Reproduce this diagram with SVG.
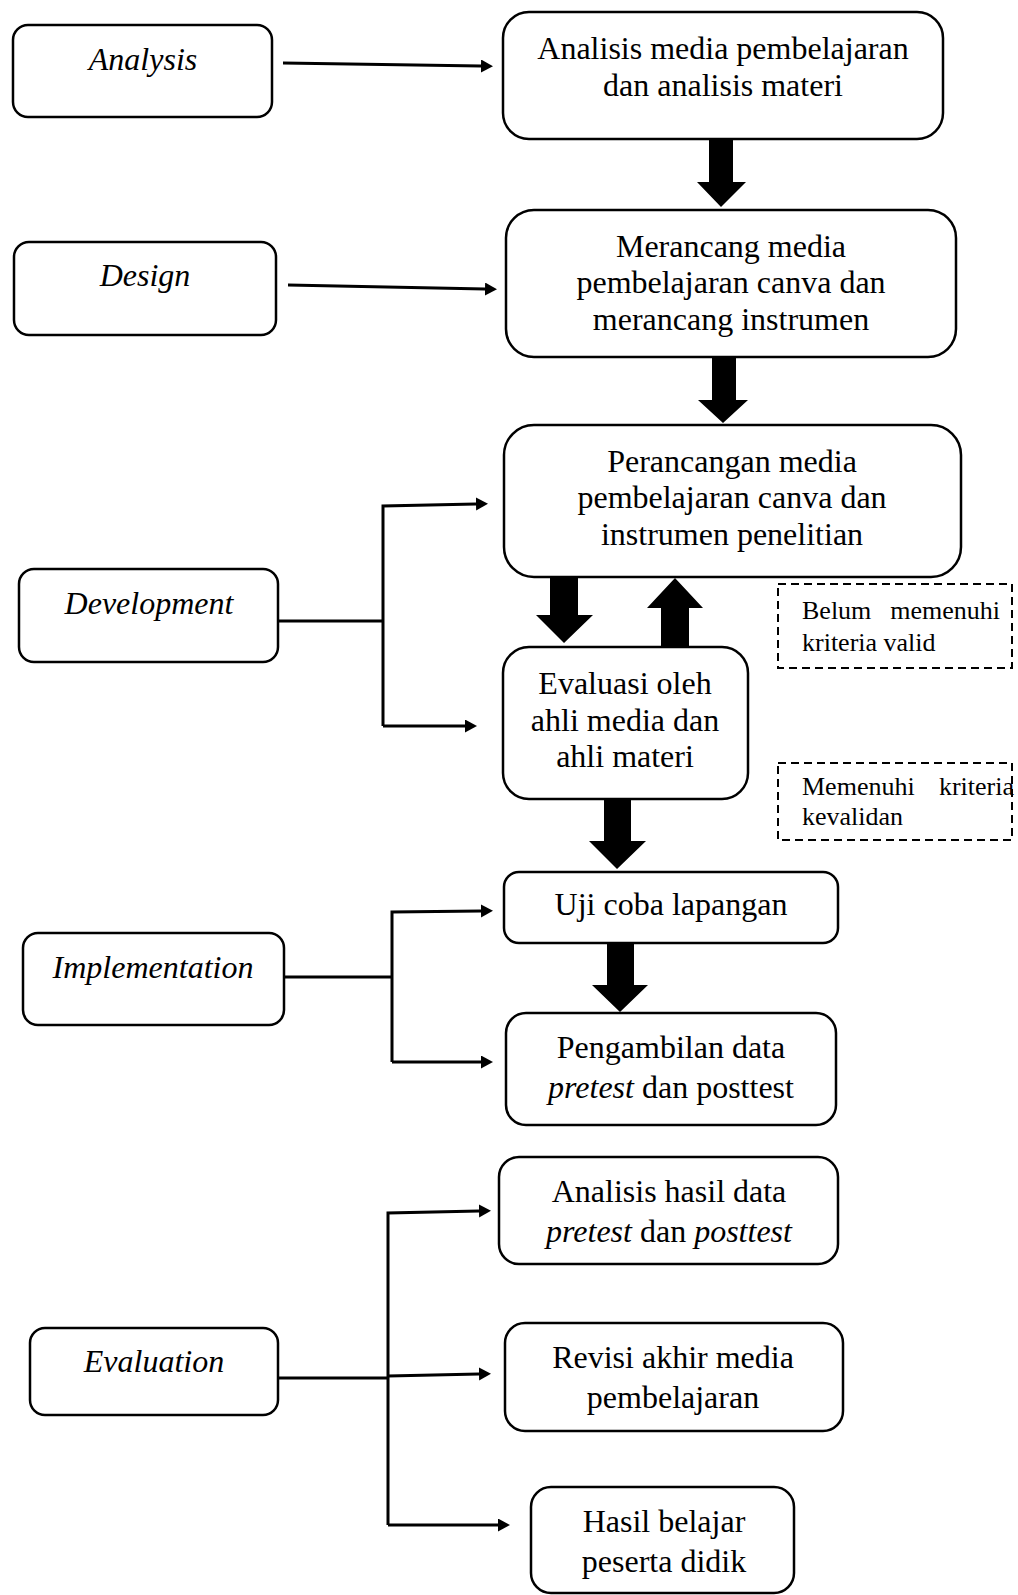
<svg xmlns="http://www.w3.org/2000/svg" width="1018" height="1595" viewBox="0 0 1018 1595">
<style>
.box{fill:#fff;stroke:#000;stroke-width:2.5}
.dash{fill:#fff;stroke:#000;stroke-width:2;stroke-dasharray:8 5}
.t{font-family:"Liberation Serif","Times New Roman",serif;font-size:32px;fill:#000;text-anchor:middle}
.lbl{font-style:italic}
.s{font-family:"Liberation Serif","Times New Roman",serif;font-size:26px;fill:#000}
.ln{fill:none;stroke:#000;stroke-width:3;stroke-linejoin:miter}
.thick{fill:#000}
</style>
<defs>
<marker id="ah" markerUnits="userSpaceOnUse" markerWidth="14" markerHeight="14" refX="0" refY="6.5" orient="auto">
<path d="M0,0 L12,6.5 L0,13 z" fill="#000"/>
</marker>
</defs>

<g id="analysis"><rect class="box" x="13" y="25" width="259" height="92" rx="15"/><text class="t lbl" x="143" y="70">Analysis</text></g>
<g id="design"><rect class="box" x="14" y="242" width="262" height="93" rx="15"/><text class="t lbl" x="145" y="286">Design</text></g>
<g id="development"><rect class="box" x="19" y="569" width="259" height="93" rx="15"/><text class="t lbl" x="149" y="614">Development</text></g>
<g id="implementation"><rect class="box" x="23" y="933" width="261" height="92" rx="15"/><text class="t lbl" x="153" y="978">Implementation</text></g>
<g id="evaluation"><rect class="box" x="30" y="1328" width="248" height="87" rx="15"/><text class="t lbl" x="154" y="1372">Evaluation</text></g>

<g id="analisis-media"><rect class="box" x="503" y="12" width="440" height="127" rx="26"/>
<text class="t" x="723" y="59">Analisis media pembelajaran</text><text class="t" x="723" y="96">dan analisis materi</text></g>
<g id="merancang-media"><rect class="box" x="506" y="210" width="450" height="147" rx="28"/>
<text class="t" x="731" y="257">Merancang media</text><text class="t" x="731" y="293">pembelajaran canva dan</text><text class="t" x="731" y="330">merancang instrumen</text></g>
<g id="perancangan-media"><rect class="box" x="504" y="425" width="457" height="152" rx="30"/>
<text class="t" x="732" y="472">Perancangan media</text><text class="t" x="732" y="508">pembelajaran canva dan</text><text class="t" x="732" y="545">instrumen penelitian</text></g>
<g id="evaluasi-ahli"><rect class="box" x="503" y="647" width="245" height="152" rx="26"/>
<text class="t" x="625" y="694">Evaluasi oleh</text><text class="t" x="625" y="731">ahli media dan</text><text class="t" x="625" y="767">ahli materi</text></g>
<g id="uji-coba"><rect class="box" x="504" y="872" width="334" height="71" rx="15"/>
<text class="t" x="671" y="915">Uji coba lapangan</text></g>
<g id="pengambilan-data"><rect class="box" x="506" y="1013" width="330" height="112" rx="20"/>
<text class="t" x="671" y="1058">Pengambilan data</text><text class="t" x="671" y="1098"><tspan font-style="italic">pretest</tspan> dan posttest</text></g>
<g id="analisis-hasil"><rect class="box" x="499" y="1157" width="339" height="107" rx="20"/>
<text class="t" x="669" y="1202">Analisis hasil data</text><text class="t" x="669" y="1242"><tspan font-style="italic">pretest</tspan> dan <tspan font-style="italic">posttest</tspan></text></g>
<g id="revisi-akhir"><rect class="box" x="505" y="1323" width="338" height="108" rx="20"/>
<text class="t" x="673" y="1368">Revisi akhir media</text><text class="t" x="673" y="1408">pembelajaran</text></g>
<g id="hasil-belajar"><rect class="box" x="531" y="1487" width="263" height="106" rx="20"/>
<text class="t" x="664" y="1532">Hasil belajar</text><text class="t" x="664" y="1572">peserta didik</text></g>

<g id="note-belum"><rect class="dash" x="778" y="584" width="234" height="84"/>
<text class="s" y="619"><tspan x="802">Belum</tspan><tspan x="1000" text-anchor="end">memenuhi</tspan></text>
<text class="s" x="802" y="651">kriteria valid</text></g>
<g id="note-memenuhi"><rect class="dash" x="778" y="763" width="234" height="77"/>
<text class="s" y="795"><tspan x="802">Memenuhi</tspan><tspan x="1014" text-anchor="end">kriteria</tspan></text>
<text class="s" x="802" y="825">kevalidan</text></g>

<g id="connectors">
<path class="ln" d="M283,63 L481,66" marker-end="url(#ah)"/>
<path class="ln" d="M288,285 L485,289" marker-end="url(#ah)"/>
<path class="ln" d="M278,621 L383,621"/>
<path class="ln" d="M383,726 L383,506 L476,504" marker-end="url(#ah)"/>
<path class="ln" d="M383,726 L465,726" marker-end="url(#ah)"/>
<path class="ln" d="M284,977 L392,977"/>
<path class="ln" d="M392,1062 L392,912 L481,911" marker-end="url(#ah)"/>
<path class="ln" d="M392,1062 L481,1062" marker-end="url(#ah)"/>
<path class="ln" d="M278,1378 L388,1378"/>
<path class="ln" d="M388,1525 L388,1213 L479,1211" marker-end="url(#ah)"/>
<path class="ln" d="M388,1376 L479,1374" marker-end="url(#ah)"/>
<path class="ln" d="M388,1525 L498,1525" marker-end="url(#ah)"/>
<polygon class="thick" points="709,139 733,139 733,182 746,182 721,207 697,182 709,182"/>
<polygon class="thick" points="712,357 736,357 736,400 748,400 723,423 698,400 712,400"/>
<polygon class="thick" points="550,577 578,577 578,615 593,615 564,643 536,615 550,615"/>
<polygon class="thick" points="661,647 689,647 689,608 703,608 675,578 647,608 661,608"/>
<polygon class="thick" points="604,799 631,799 631,841 646,841 617,869 589,841 604,841"/>
<polygon class="thick" points="607,943 634,943 634,985 648,985 620,1012 592,985 607,985"/>
</g>
</svg>
